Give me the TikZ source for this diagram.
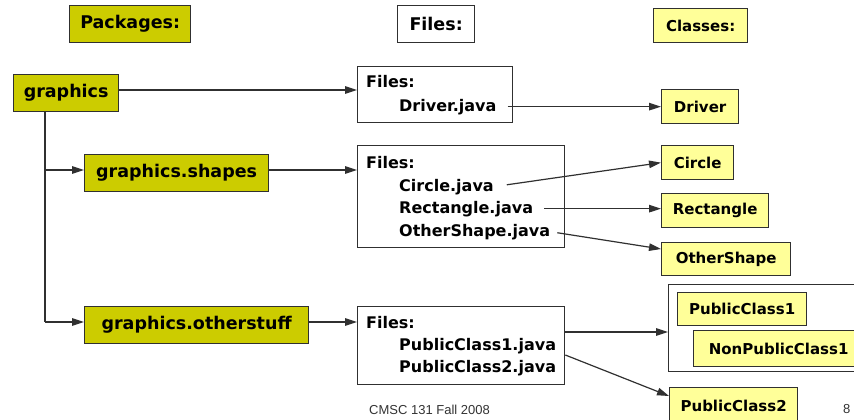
\documentclass[tikz,border=0pt]{standalone}
\usepackage{fontspec}
\setmainfont{DejaVu Sans}
\newfontfamily\footfont{Liberation Sans}
\usetikzlibrary{arrows.meta}
\definecolor{pkgfill}{HTML}{CCCC00}
\definecolor{clsfill}{HTML}{FFFF99}
\definecolor{edge}{HTML}{303030}
\tikzset{
  box/.style={draw=edge, line width=1.3pt, inner sep=0pt, anchor=north west},
  pkg/.style={box, fill=pkgfill, font=\bfseries\fontsize{17.5}{19}\selectfont},
  cls/.style={box, fill=clsfill, font=\bfseries\fontsize{15}{17}\selectfont},
  filebox/.style={box, fill=white},
  ftext/.style={anchor=base west, inner sep=0pt, font=\bfseries\fontsize{16}{18}\selectfont},
  link/.style={draw=edge, line width=1.2pt, -{Triangle[length=12pt,width=7.5pt]}},
  plain/.style={draw=edge, line width=1.2pt},
  foot/.style={anchor=base west, inner sep=0pt, text=black!80, font=\footfont\fontsize{13}{15}\selectfont}
}
\begin{document}
\begin{tikzpicture}[x=1pt,y=-1pt]
\useasboundingbox (0,0) rectangle (854,420);

% column headers
\node[pkg, minimum width=121pt, minimum height=37pt] (hpkg) at (69,5) {Packages:};
\node[filebox, minimum width=77pt, minimum height=37pt, font=\bfseries\fontsize{17.5}{19}\selectfont] (hfiles) at (397,5) {Files:};
\node[cls, minimum width=94pt, minimum height=34pt] (hcls) at (653,8) {Classes:};

% packages
\node[pkg, minimum width=105pt, minimum height=37pt] (gfx) at (13,74) {graphics};
\node[pkg, minimum width=184pt, minimum height=37pt] (shapes) at (84,154) {graphics.shapes};
\node[pkg, minimum width=224pt, minimum height=37pt] (other) at (84,306) {graphics.otherstuff};

% file boxes
\node[filebox, minimum width=155pt, minimum height=56pt] (f1) at (357,66) {};
\node[ftext] (f1h) at (366,88) {Files:};
\node[ftext] (drvj) at (399,111) {Driver.java};

\node[filebox, minimum width=207pt, minimum height=102pt] (f2) at (357,145) {};
\node[ftext] (f2h) at (366,168) {Files:};
\node[ftext] (circj) at (399,191) {Circle.java};
\node[ftext] (rectj) at (399,213) {Rectangle.java};
\node[ftext] (othj) at (399,236) {OtherShape.java};

\node[filebox, minimum width=207pt, minimum height=78pt] (f3) at (357,306) {};
\node[ftext] (f3h) at (366,328) {Files:};
\node[ftext] (pc1j) at (399,350) {PublicClass1.java};
\node[ftext] (pc2j) at (399,372) {PublicClass2.java};

% classes
\node[cls, minimum width=77pt, minimum height=34pt] (drv) at (661,89) {Driver};
\node[cls, minimum width=72pt, minimum height=34pt] (circ) at (661,145) {Circle};
\node[cls, minimum width=107pt, minimum height=34pt] (rect) at (661,193) {Rectangle};
\node[cls, minimum width=129pt, minimum height=33pt] (oshape) at (661,242) {OtherShape};
\node[filebox, minimum width=192pt, minimum height=87pt] (grp) at (668,284) {};
\node[cls, minimum width=129pt, minimum height=33pt] (pc1) at (677,292) {PublicClass1};
\node[cls, minimum width=170pt, minimum height=36pt] (npc1) at (693,330) {NonPublicClass1};
\node[cls, minimum width=128pt, minimum height=36pt] (pc2) at (669,387) {PublicClass2};

% package tree
\coordinate (b1) at (45,170);
\coordinate (b2) at (45,322);
\draw[plain] (gfx.south -| b1) -- (b2);
\draw[link] (b1) -- (shapes.west |- b1);
\draw[link] (b2) -- (other.west |- b2);

% package -> files
\draw[link] (gfx.east |- 0,90) -- (f1.west |- 0,90);
\draw[link] (shapes.east |- b1) -- (f2.west |- b1);
\draw[link] (other.east |- b2) -- (f3.west |- b2);

% files -> classes
\draw[link, shorten <=11pt] (drvj.east) -- (drv.west |- drvj.east);
\draw[link, shorten <=13pt] (circj.east) -- (circ.west);
\draw[link, shorten <=11pt] (rectj.east) -- (rect.west |- rectj.east);
\draw[link, shorten <=7pt] (othj.east) -- (oshape.west |- 0,249);
\draw[link] (f3.east |- 0,332) -- (grp.west |- 0,332);
\draw[link] (f3.east |- 0,355) -- (pc2.north west |- 0,396);

% footer
\node[foot] (foot) at (369,414) {CMSC 131 Fall 2008};
\node[foot] (pg) at (843,413) {8};
\end{tikzpicture}
\end{document}
